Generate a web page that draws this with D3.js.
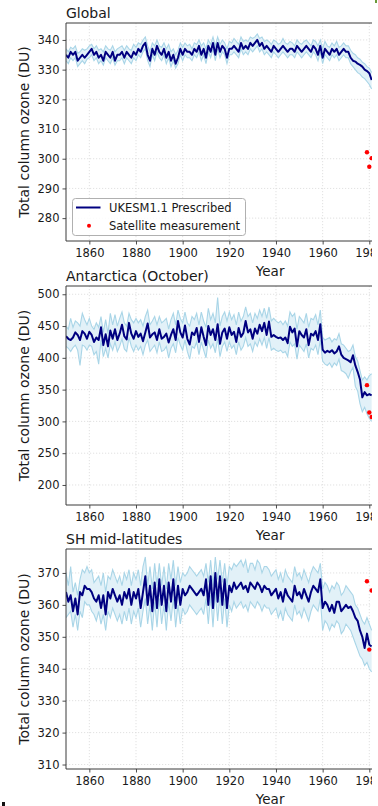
<!DOCTYPE html>
<html>
<head>
<meta charset="utf-8">
<script src="https://cdn.jsdelivr.net/npm/d3@7"></script>
<style>
  html, body { margin: 0; padding: 0; background: #fff; }
  svg { display: block; font-family: "DejaVu Sans", sans-serif; }
</style>
</head>
<body>
<svg id="chart" width="378" height="806"></svg>
<script>
// ---------------- DATA ----------------
const years = d3.range(1850, 1982);
const xTickValues = [1860, 1880, 1900, 1920, 1940, 1960, 1980];

const globalMean = [
  335,334,336,335,336,333,334,335,334,335,
  336,337,335,336,334,335,333,336,335,334,
  336,333,335,335,336,334,336,335,334,336,
  335,337,336,338,339,335,333,337,335,338,
  336,335,337,334,336,333,335,332,334,337,
  335,337,336,336,335,337,336,338,335,337,
  334,338,336,339,335,339,336,338,337,334,
  337,337,338,337,336,339,337,338,337,339,
  338,339,340,338,339,337,338,337,336,338,
  337,336,337,338,337,336,337,337,336,338,
  337,336,337,338,337,336,338,337,335,338,
  334,337,336,335,337,336,337,335,336,337,
  336,336,334,333,332.7,332,331.6,331,330,329.5,
  328.8,326.5
];
const globalUpper = [
  337,336,337.5,337,338,335.5,336,337,336.5,337,
  338,338.5,337,338,336.5,337,336,338,337,336.5,
  338,336,337,337.5,338,336.5,338,337,336.5,338.5,
  337.5,339,338.5,340,341,338,336,339,338,340,
  338,337.5,339,337,338.5,336,337,335,336.5,339,
  337.5,339,338,338.5,337,339,338.5,340,338,339,
  337,340,338.5,341,338,341,338.5,340,339,337,
  339.5,339,340.5,339.5,338.5,341,339.5,340,339.5,341,
  340.5,341,342,340.5,341,339.5,340,339.5,338.5,340,
  339.5,338.5,339,340.5,339,338.5,339.5,339,338,340,
  339,338.5,339.5,340,339,338,340,339.5,338,340,
  337,339.5,338,337.5,339,338,339.5,337.5,338,339,
  338,338,336.5,335.5,335,334,333.5,332.5,332,331,
  330.5,329
];
const globalLower = [
  333,332,334,333,334,331,332,333,332,333.5,
  334,335,333,334,332,333,331.5,334,333,332,
  334,331.5,333,333,334,332,334,333,332,334,
  333,335,334,336,337,333,331,335,333,336,
  334,333,335,332,334,331,333,330.5,332,335,
  333,335,334,334,333,335,334,336,333,335,
  332,336,334,337,333,337,334,336,335,332,
  335,335,336,335,334,337,335,336,335,337,
  336,337,338,336,337,335,336,335,334,336,
  335,334,335,336,335,334,335,335,334,336,
  335,334,335,336,335,334,336,335,333,336,
  332,335,334,333,335,334,335,333,334,335,
  334,334,332,331,330,329,328.5,327.5,327,326,
  325,323.5
];

const antMean = [
  434,430,428,432,440,436,428,442,438,430,
  441,436,425,432,428,448,420,437,418,443,
  430,445,428,438,452,434,429,455,438,430,
  442,433,438,426,440,454,432,437,440,428,
  445,430,433,438,424,436,445,428,458,440,
  432,451,430,421,440,436,447,425,448,433,
  420,450,436,445,428,453,422,440,446,430,
  448,436,441,425,447,433,439,458,440,445,
  430,446,438,452,442,455,436,457,433,436,
  433,431,432,428,432,423,449,440,446,418,
  442,436,432,445,420,438,435,442,428,453,
  413,408,411,409,412,407,410,418,405,400,
  398,396,393,404,388,378,366,338,346,341,
  343,341
];
const antUpper = [
  450,445,462,448,458,455,450,470,460,452,
  462,450,445,455,448,465,440,460,438,470,
  452,468,450,462,472,455,450,470,460,455,
  462,455,460,450,465,475,452,458,465,452,
  465,455,458,462,445,460,470,452,475,462,
  455,472,455,450,465,460,470,452,472,458,
  448,478,460,470,455,495,450,465,472,458,
  472,460,468,452,472,458,465,480,465,470,
  455,470,462,475,465,478,462,480,458,462,
  458,455,458,452,458,450,472,465,470,445,
  465,460,455,470,448,462,460,468,452,475,
  432,428,430,432,425,430,428,438,422,420,
  415,410,412,420,402,395,380,365,370,365,
  372,375
];
const antLower = [
  418,415,410,416,420,412,388,420,418,412,
  420,418,405,410,390,428,402,415,400,422,
  412,425,410,418,430,414,410,432,418,410,
  420,412,418,405,420,428,410,415,420,408,
  425,410,412,418,400,415,422,408,432,420,
  412,428,410,398,418,415,425,405,425,412,
  400,428,415,422,408,430,402,418,425,410,
  425,415,420,405,425,412,418,432,418,422,
  410,425,418,430,420,432,415,432,412,415,
  412,410,412,408,410,402,425,418,422,398,
  420,415,410,422,400,415,412,420,405,428,
  395,390,388,392,385,392,388,398,380,378,
  375,368,378,385,355,348,328,315,322,312,
  305,300
];

const shMean = [
  364,361,363,358,362,357,364,363,366,365,
  365,364,362,361,363,359,363,357,364,362,
  365,363,361,363,360,364,362,365,360,364,
  362,365,359,364,369,360,366,358,367,359,
  368,360,366,358,367,361,368,359,366,360,
  365,363,364,366,365,364,363,364,365,363,
  368,360,369,359,370,361,369,360,368,359,
  366,364,367,365,366,367,365,366,364,367,
  366,365,367,366,364,366,365,365,363,364,
  365,362,364,361,365,363,362,361,366,363,
  364,362,365,363,361,364,366,365,364,368,
  359,361,360,358,360,357.5,361,361,358,359,
  360,359,359.5,358,356,355,352,350,346.5,351,
  347.5,347
];
const shUpper = [
  370,366,372,364,367,363,368,371,370,372,
  370,371,367,368,369,366,370,364,369,368,
  371,369,367,369,366,370,368,371,366,370,
  368,371,366,372,375,366,372,365,373,366,
  373,366,372,365,373,368,374,366,372,367,
  370,369,370,372,371,370,369,370,371,369,
  373,367,374,366,375,368,374,367,373,366,
  372,371,373,372,373,374,372,374,370,373,
  373,371,374,373,370,372,372,371,369,370,
  371,368,370,367,371,369,368,367,372,369,
  370,368,371,369,367,370,372,371,370,373,
  365,367,366,364,366,365,367,366,363,364,
  366,365,364,363,360,359,357,355,354,356,
  354,352
];
const shLower = [
  356,357,358,353,357,352,358,356,361,360,
  360,358,357,355,358,354,357,352,358,356,
  359,357,355,357,354,358,355,359,354,358,
  356,359,353,358,362,354,360,352,361,353,
  362,354,360,352,361,355,362,353,360,354,
  359,357,358,360,359,358,357,358,359,357,
  362,354,363,353,364,355,363,354,362,353,
  360,358,361,359,360,361,359,360,358,361,
  360,359,361,360,358,360,359,359,357,358,
  359,356,358,355,359,357,356,355,360,357,
  358,356,359,357,355,358,360,359,358,362,
  352,355,354,352,354,353,355,354,351,352,
  354,353,352,350,348,346,344,343,341,342,
  340,339
];

const satYears = [1979, 1980, 1981];
const satGlobal = [302.2, 297.3, 300.2];
const satAnt = [357, 314, 307];
const satSH = [367.4, 346, 364.5];

const panelTitles = ["Global", "Antarctica (October)", "SH mid-latitudes"];
const globalTicks = [280, 290, 300, 310, 320, 330, 340];
const antTicks = [200, 250, 300, 350, 400, 450, 500];
const shTicks = [310, 320, 330, 340, 350, 360, 370];

const seriesName = "UKESM1.1 Prescribed";
const satName = "Satellite measurement";
const yLabel = "Total column ozone (DU)";
const xLabel = "Year";

// ---------------- LAYOUT ----------------
const svg = d3.select("#chart");
const visibleRight = 372;
const left = 66, axesRight = 474.3;

const panels = [
  { title: panelTitles[0], mean: globalMean, upper: globalUpper, lower: globalLower, sat: satGlobal,
    ticks: globalTicks, domain: [272.3, 345.7], top: 23, bottom: 241, legend: true },
  { title: panelTitles[1], mean: antMean, upper: antUpper, lower: antLower, sat: satAnt,
    ticks: antTicks, domain: [168.5, 513], top: 286, bottom: 505, legend: false },
  { title: panelTitles[2], mean: shMean, upper: shUpper, lower: shLower, sat: satSH,
    ticks: shTicks, domain: [308.6, 377.5], top: 549, bottom: 769, legend: false }
];

const x = d3.scaleLinear().domain([1850, 2025]).range([left, axesRight]);

const defs = svg.append("defs");
defs.append("clipPath").attr("id", "pageclip")
  .append("rect").attr("x", 0).attr("y", 0).attr("width", visibleRight).attr("height", 806);

const root = svg.append("g").attr("clip-path", "url(#pageclip)");

const lineColor = "#000080";
const bandFill = "#e2f1f8";
const bandStroke = "#a9d5e7";
const gridColor = "#d9d9d9";
const spineColor = "#3a3a3a";
const textColor = "#1a1a1a";

panels.forEach((p, i) => {
  const y = d3.scaleLinear().domain(p.domain).range([p.bottom, p.top]);
  const g = root.append("g");

  const cid = "clip" + i;
  defs.append("clipPath").attr("id", cid)
    .append("rect").attr("x", left).attr("y", p.top)
    .attr("width", axesRight - left).attr("height", p.bottom - p.top);

  // grid
  const grid = g.append("g");
  grid.selectAll("line.vx").data(xTickValues).join("line")
    .attr("x1", d => x(d)).attr("x2", d => x(d))
    .attr("y1", p.top).attr("y2", p.bottom)
    .attr("stroke", gridColor).attr("stroke-width", 0.8).attr("stroke-dasharray", "1.2,1.8");
  grid.selectAll("line.hy").data(p.ticks).join("line")
    .attr("x1", left).attr("x2", axesRight)
    .attr("y1", d => y(d)).attr("y2", d => y(d))
    .attr("stroke", gridColor).attr("stroke-width", 0.8).attr("stroke-dasharray", "1.2,1.8");

  const plot = g.append("g").attr("clip-path", `url(#${cid})`);
  const rows = years.map((yr, k) => ({ yr, m: p.mean[k], u: p.upper[k], l: p.lower[k] }));

  plot.append("path").datum(rows)
    .attr("d", d3.area().x(d => x(d.yr)).y0(d => y(d.l)).y1(d => y(d.u)))
    .attr("fill", bandFill).attr("stroke", "none");
  plot.append("path").datum(rows)
    .attr("d", d3.line().x(d => x(d.yr)).y(d => y(d.u)))
    .attr("fill", "none").attr("stroke", bandStroke).attr("stroke-width", 1.1);
  plot.append("path").datum(rows)
    .attr("d", d3.line().x(d => x(d.yr)).y(d => y(d.l)))
    .attr("fill", "none").attr("stroke", bandStroke).attr("stroke-width", 1.1);
  plot.append("path").datum(rows)
    .attr("d", d3.line().x(d => x(d.yr)).y(d => y(d.m)))
    .attr("fill", "none").attr("stroke", lineColor).attr("stroke-width", 2)
    .attr("stroke-linejoin", "round");

  plot.selectAll("circle.sat").data(satYears.map((yr, k) => ({ yr, v: p.sat[k] }))).join("circle")
    .attr("cx", d => x(d.yr)).attr("cy", d => y(d.v)).attr("r", 2.2).attr("fill", "red");

  // axes
  const yAxis = d3.axisLeft(y).tickValues(p.ticks).tickSize(3.5).tickPadding(3).tickFormat(d3.format("d"));
  const ya = g.append("g").attr("transform", `translate(${left},0)`).call(yAxis);
  const xAxis = d3.axisBottom(x).tickValues(xTickValues).tickSize(3.5).tickPadding(4).tickFormat(d3.format("d"));
  const xa = g.append("g").attr("transform", `translate(0,${p.bottom})`).call(xAxis);
  [ya, xa].forEach(a => {
    a.select(".domain").attr("stroke", spineColor).attr("stroke-width", 1);
    a.selectAll(".tick line").attr("stroke", spineColor).attr("stroke-width", 0.9);
    a.selectAll(".tick text").attr("fill", textColor)
      .style("font-size", "11.5px").style("font-family", "DejaVu Sans, sans-serif");
  });
  ya.select(".domain").attr("d", `M0,${p.bottom}V${p.top}`);
  xa.select(".domain").attr("d", `M${left},0H${axesRight}`);
  // top spine
  g.append("line").attr("x1", left).attr("x2", axesRight).attr("y1", p.top).attr("y2", p.top)
    .attr("stroke", spineColor).attr("stroke-width", 1);

  // title
  g.append("text").attr("x", left).attr("y", p.top - 5)
    .attr("fill", textColor).style("font-size", "14px").text(p.title);
  // x label
  g.append("text").attr("x", (left + axesRight) / 2).attr("y", p.bottom + 35)
    .attr("text-anchor", "middle").attr("fill", textColor).style("font-size", "13.5px").text(xLabel);
  // y label
  g.append("text")
    .attr("transform", `translate(28.5,${(p.top + p.bottom) / 2}) rotate(-90)`)
    .attr("text-anchor", "middle").attr("fill", textColor).style("font-size", "14px").text(yLabel);

  if (p.legend) {
    const lg = g.append("g");
    lg.append("rect").attr("x", 72.5).attr("y", 198.5).attr("width", 173).attr("height", 37)
      .attr("rx", 3).attr("fill", "rgba(255,255,255,0.85)").attr("stroke", "#b0b0b0").attr("stroke-width", 1);
    lg.append("line").attr("x1", 76).attr("x2", 100.5).attr("y1", 207.5).attr("y2", 207.5)
      .attr("stroke", lineColor).attr("stroke-width", 2);
    lg.append("text").attr("x", 109).attr("y", 211.8).attr("fill", textColor)
      .style("font-size", "11.5px").text(seriesName);
    lg.append("circle").attr("cx", 89).attr("cy", 225.8).attr("r", 2).attr("fill", "red");
    lg.append("text").attr("x", 109).attr("y", 229.8).attr("fill", textColor)
      .style("font-size", "11.5px").text(satName);
  }
});

// small edge artefacts visible in the reference crop
svg.append("rect").attr("x", 375).attr("y", 0).attr("width", 2).attr("height", 3).attr("fill", "#6a9a3a");
svg.append("rect").attr("x", 2).attr("y", 802).attr("width", 3).attr("height", 4).attr("fill", "#111");
</script>
</body>
</html>
